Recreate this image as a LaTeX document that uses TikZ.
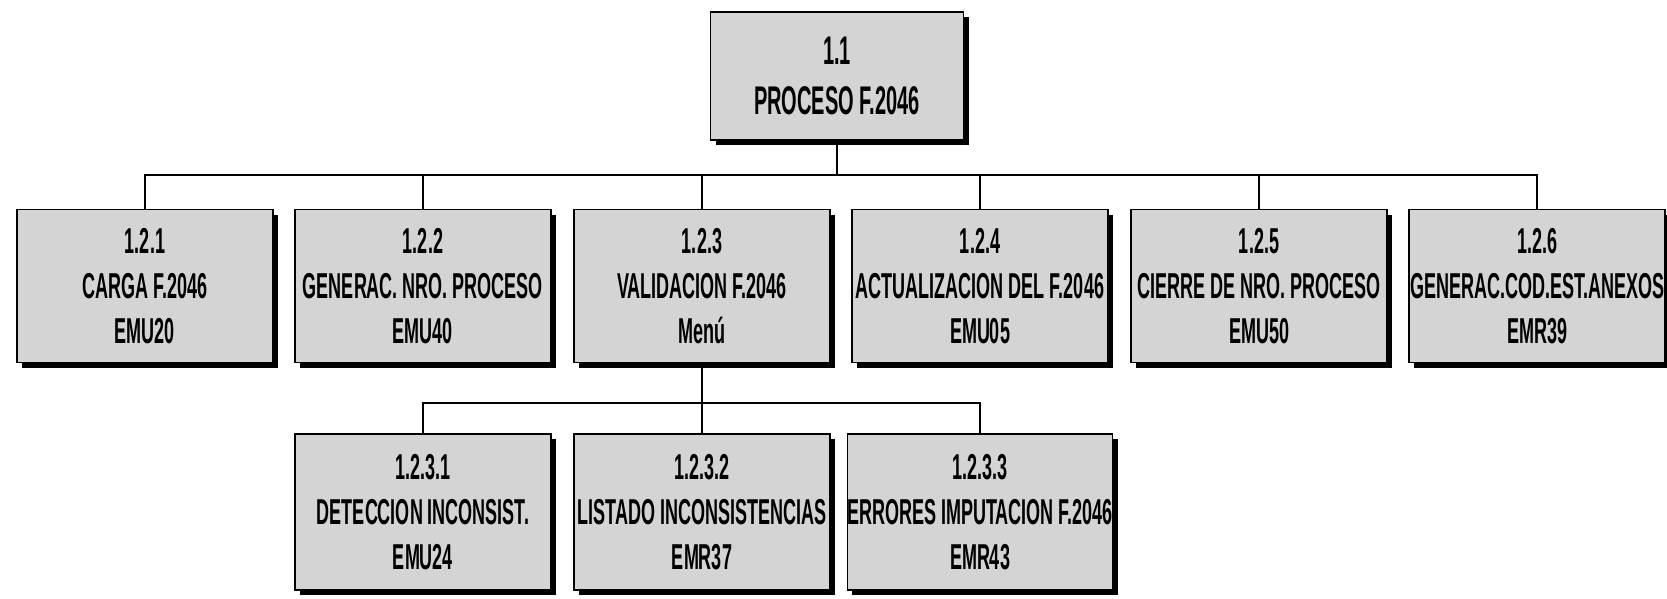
\documentclass[tikz,border=0pt]{standalone}
\usepackage{fontspec}
\setmainfont{Liberation Sans}[FakeStretch=0.5]
\usetikzlibrary{positioning,shadows}

\begin{document}
\begin{tikzpicture}[x=1pt,y=-1pt,
  box/.style={draw=black, line width=1.2pt, fill=black!17, minimum width=256pt, minimum height=153pt, inner sep=0pt, align=center, font=\fontsize{36}{45}\selectfont\bfseries, drop shadow={shadow xshift=5pt, shadow yshift=-5pt, fill=black, opacity=1}},
  link/.style={draw=black, line width=1.6pt}]
  \useasboundingbox (0,0) rectangle (1667,598);

  % top box
  \node[box, minimum width=253pt, minimum height=128pt, font=\fontsize{40}{50}\selectfont\bfseries] (p11) at (837,76) {1.1\\PROCESO F.2046};

  % second level
  \node[box] (p121) at (145,286) {1.2.1\\CARGA F.2046\\EMU20};
  \node[box] (p122) at (423,286) {1.2.2\\GENERAC. NRO. PROCESO\\EMU40};
  \node[box] (p123) at (702,286) {1.2.3\\VALIDACION F.2046\\Menú};
  \node[box] (p124) at (980,286) {1.2.4\\ACTUALIZACION DEL F.2046\\EMU05};
  \node[box] (p125) at (1259,286) {1.2.5\\CIERRE DE NRO. PROCESO\\EMU50};
  \node[box] (p126) at (1537,286) {1.2.6\\GENERAC.COD.EST.ANEXOS\\EMR39};

  % third level
  \node[box, minimum height=156pt] (p1231) at (423,512) {1.2.3.1\\DETECCION INCONSIST.\\EMU24};
  \node[box, minimum height=156pt] (p1232) at (702,512) {1.2.3.2\\LISTADO INCONSISTENCIAS\\EMR37};
  \node[box, minimum height=156pt] (p1233) at (980,512) {1.2.3.3\\ERRORES IMPUTACION F.2046\\EMR43};

  % connectors
  \coordinate (j1) at (837,175);
  \draw[link] (p11.south) -- (j1);
  \draw[link] (j1) -| (p121.north);
  \draw[link] (j1) -| (p122.north);
  \draw[link] (j1) -| (p123.north);
  \draw[link] (j1) -| (p124.north);
  \draw[link] (j1) -| (p125.north);
  \draw[link] (j1) -| (p126.north);

  \coordinate (j2) at (702,403);
  \draw[link] (p123.south) -- (j2) -- (p1232.north);
  \draw[link] (j2) -| (p1231.north);
  \draw[link] (j2) -| (p1233.north);
\end{tikzpicture}
\end{document}
